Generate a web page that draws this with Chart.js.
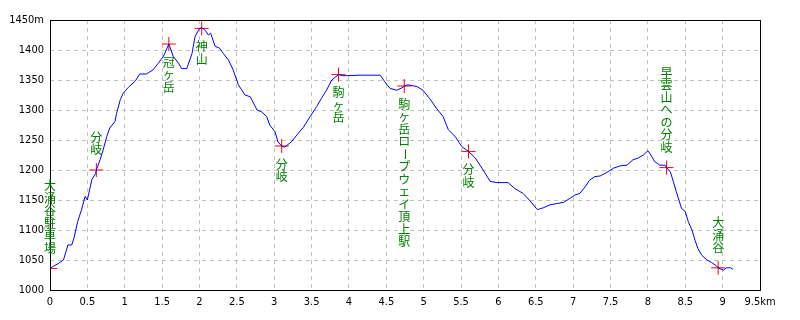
<!DOCTYPE html>
<html>
<head>
<meta charset="utf-8">
<script src="https://cdn.jsdelivr.net/npm/chart.js@4/dist/chart.umd.min.js"></script>
<style>
  html, body { margin: 0; padding: 0; background: #fff; }
</style>
</head>
<body>
<canvas id="profile" width="800" height="320"></canvas>
<script>
// distance (km) / elevation (m)
const distKm = [0.00, 0.05, 0.11, 0.18, 0.24, 0.29, 0.32, 0.37, 0.42, 0.47, 0.50, 0.56, 0.61, 0.62, 0.67, 0.71,
  0.76, 0.80, 0.87, 0.89, 0.94, 0.98, 1.05, 1.14, 1.20, 1.29, 1.38, 1.45, 1.52, 1.59, 1.65, 1.72, 1.76, 1.83,
  1.90, 1.94, 2.00, 2.03, 2.07, 2.12, 2.15, 2.21, 2.27, 2.32, 2.39, 2.45, 2.52, 2.61, 2.68, 2.77, 2.83, 2.90,
  2.94, 3.01, 3.05, 3.10, 3.14, 3.23, 3.32, 3.39, 3.48, 3.57, 3.63, 3.70, 3.77, 3.86, 3.92, 4.15, 4.28, 4.42,
  4.48, 4.55, 4.64, 4.71, 4.74, 4.79, 4.91, 4.99, 5.08, 5.17, 5.26, 5.33, 5.42, 5.51, 5.60, 5.69, 5.78, 5.89,
  5.98, 6.13, 6.22, 6.33, 6.42, 6.52, 6.60, 6.69, 6.78, 6.87, 6.96, 7.02, 7.09, 7.16, 7.22, 7.29, 7.36, 7.45,
  7.54, 7.63, 7.72, 7.80, 7.87, 7.94, 8.00, 8.04, 8.09, 8.16, 8.23, 8.25, 8.30, 8.34, 8.38, 8.45, 8.50, 8.54,
  8.59, 8.63, 8.67, 8.72, 8.79, 8.85, 8.92, 8.94, 9.01, 9.05, 9.11, 9.14];
const elevM = [1036, 1040, 1044, 1050, 1075, 1075, 1086, 1114, 1133, 1156, 1150, 1184, 1194, 1200, 1217, 1233,
  1256, 1270, 1281, 1294, 1317, 1328, 1338, 1348, 1360, 1360, 1367, 1378, 1390, 1410, 1389, 1378, 1369, 1369,
  1394, 1422, 1436, 1437, 1434, 1425, 1428, 1406, 1403, 1394, 1383, 1367, 1342, 1325, 1322, 1300, 1297, 1289,
  1275, 1264, 1247, 1240, 1238, 1247, 1261, 1271, 1289, 1306, 1319, 1333, 1350, 1359, 1357, 1358, 1358, 1358,
  1347, 1336, 1333, 1337, 1340, 1342, 1339, 1333, 1319, 1303, 1289, 1267, 1256, 1239, 1231, 1220, 1203, 1181,
  1179, 1179, 1169, 1161, 1149, 1134, 1137, 1142, 1144, 1146, 1153, 1158, 1161, 1172, 1183, 1189, 1190, 1196,
  1203, 1207, 1208, 1217, 1220, 1225, 1232, 1225, 1214, 1208, 1208, 1204, 1197, 1181, 1164, 1136, 1131, 1114,
  1100, 1083, 1069, 1058, 1050, 1046, 1040, 1037, 1033, 1037, 1037, 1034];

// waypoints
const wayKm = [0, 0.62, 1.59, 2.03, 3.10, 3.86, 4.74, 5.60, 8.25, 8.94];
const wayElev = [1036, 1200, 1410, 1436, 1240, 1359, 1340, 1231, 1204, 1037];
const wayNames = ['大涌谷駐車場', '分岐', '冠ヶ岳', '神山', '分岐', '駒ヶ岳', '駒ヶ岳ロープウェイ頂上駅', '分岐', '早雲山への分岐', '大涌谷'];

const xTicks = [0, 0.5, 1, 1.5, 2, 2.5, 3, 3.5, 4, 4.5, 5, 5.5, 6, 6.5, 7, 7.5, 8, 8.5, 9, 9.5];
const yTicks = [1000, 1050, 1100, 1150, 1200, 1250, 1300, 1350, 1400, 1450];

const tickFont = { family: "'Liberation Sans Narrow', 'DejaVu Sans Condensed', sans-serif", size: 11 };

// which side of the cross the vertical name goes
const labelSide = ['up', 'up', 'down', 'down', 'down', 'down', 'down', 'down', 'up', 'up'];

const boxAndLabels = {
    id: 'boxAndLabels',
    afterDatasetsDraw(chart) {
        const ctx = chart.ctx;
        const a = chart.chartArea;
        ctx.save();
        ctx.strokeStyle = '#000';
        ctx.lineWidth = 1;
        ctx.strokeRect(Math.round(a.left) + 0.5, Math.round(a.top) + 0.5,
            Math.round(a.right - a.left), Math.round(a.bottom - a.top));

        const meta = chart.getDatasetMeta(1);
        ctx.fillStyle = '#008000';
        ctx.font = "12px 'Noto Sans CJK JP', sans-serif";
        ctx.textAlign = 'center';
        ctx.textBaseline = 'middle';
        const step = 12.5;
        meta.data.forEach((pt, i) => {
            const chars = Array.from(wayNames[i]);
            let y0;
            if (labelSide[i] === 'down') {
                y0 = pt.y + 12 + step / 2;
            } else {
                y0 = pt.y - 14 - (chars.length - 0.5) * step;
            }
            chars.forEach((c, k) => {
                const cy = y0 + k * step;
                if (c === 'ー') {
                    ctx.save();
                    ctx.translate(pt.x, cy);
                    ctx.rotate(Math.PI / 2);
                    ctx.fillText(c, 0, 0);
                    ctx.restore();
                } else {
                    ctx.fillText(c, pt.x, cy);
                }
            });
        });
        ctx.restore();
    }
};

new Chart(document.getElementById('profile'), {
    type: 'scatter',
    data: {
        datasets: [{
            data: distKm.map((d, i) => ({x: d, y: elevM[i]})),
            showLine: true,
            borderColor: '#0000ff',
            borderWidth: 1,
            pointRadius: 0,
            tension: 0
        }, {
            data: wayKm.map((d, i) => ({x: d, y: wayElev[i]})),
            pointStyle: 'cross',
            pointRadius: 7,
            borderColor: '#ff0000',
            borderWidth: 1,
            showLine: false
        }]
    },
    options: {
        responsive: false,
        animation: false,
        devicePixelRatio: 1,
        layout: { padding: { top: 20, right: 40, left: 0, bottom: 0 } },
        plugins: { legend: { display: false }, tooltip: { enabled: false } },
        scales: {
            x: {
                type: 'linear',
                min: 0,
                max: 9.5,
                afterFit: (s) => { s.height = 30; },
                afterBuildTicks: (s) => { s.ticks = xTicks.map(v => ({value: v})); },
                grid: { color: '#c0c0c0', drawTicks: false },
                border: { display: false, dash: [4, 4] },
                ticks: {
                    color: '#000',
                    font: tickFont,
                    padding: 6,
                    maxRotation: 0,
                    autoSkip: false,
                    callback: (v) => v === 9.5 ? '9.5km' : String(v)
                }
            },
            y: {
                min: 1000,
                max: 1450,
                afterFit: (s) => { s.width = 50; },
                afterBuildTicks: (s) => { s.ticks = yTicks.map(v => ({value: v})); },
                grid: { color: '#c0c0c0', drawTicks: false },
                border: { display: false, dash: [4, 4] },
                ticks: {
                    color: '#000',
                    font: tickFont,
                    padding: 6,
                    autoSkip: false,
                    callback: (v) => v === 1450 ? '1450m' : String(v)
                }
            }
        }
    },
    plugins: [boxAndLabels]
});
</script>
</body>
</html>
